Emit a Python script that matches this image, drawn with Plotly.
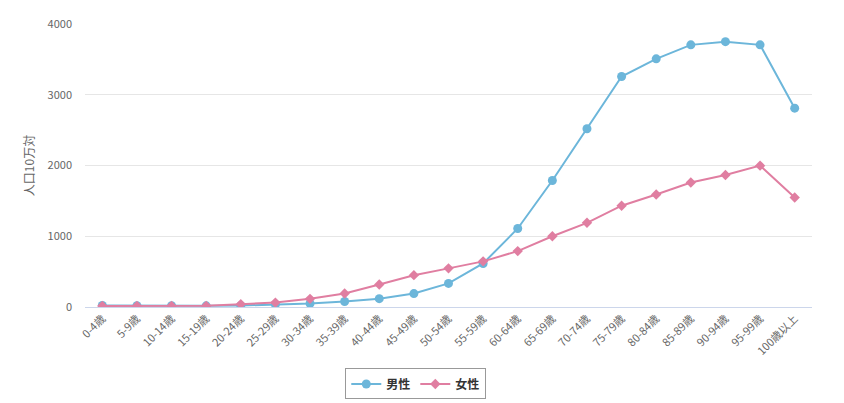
import plotly.graph_objects as go

categories = ["0-4歳", "5-9歳", "10-14歳", "15-19歳", "20-24歳", "25-29歳", "30-34歳",
              "35-39歳", "40-44歳", "45-49歳", "50-54歳", "55-59歳", "60-64歳", "65-69歳",
              "70-74歳", "75-79歳", "80-84歳", "85-89歳", "90-94歳", "95-99歳", "100歳以上"]
male = [22, 18, 18, 16, 20, 35, 50, 78, 118, 190, 333, 615, 1110, 1788, 2520, 3258,
        3508, 3705, 3750, 3705, 2810]
female = [15, 14, 14, 16, 40, 62, 115, 190, 318, 450, 546, 645, 790, 1000, 1190, 1432,
          1590, 1760, 1866, 1998, 1548]

font_family = "Noto Sans CJK JP, Noto Sans, sans-serif"

fig = go.Figure()
fig.add_trace(go.Scatter(
    x=categories, y=male, name="男性", mode="lines+markers",
    line=dict(color="#6cb6da", width=2),
    marker=dict(symbol="circle", size=9, color="#6cb6da"),
))
fig.add_trace(go.Scatter(
    x=categories, y=female, name="女性", mode="lines+markers",
    line=dict(color="#e07ea1", width=2),
    marker=dict(symbol="diamond", size=8, color="#e07ea1"),
))

fig.update_layout(
    width=844, height=403,
    margin=dict(l=85, r=32, t=24, b=96, autoexpand=False),
    paper_bgcolor="white", plot_bgcolor="white",
    font=dict(family=font_family, size=12, color="#666666"),
    showlegend=True,
    legend=dict(
        orientation="h", x=0.455, xanchor="center", y=-0.272, yanchor="middle",
        bordercolor="#999999", borderwidth=1,
        font=dict(size=12, color="#333333", family=font_family, weight="bold"),
        itemwidth=30, tracegroupgap=0,
    ),
    hovermode="x",
)
fig.update_xaxes(
    type="category", tickangle=-45, showgrid=False, automargin=False,
    showline=True, linecolor="#ccd6eb", linewidth=1,
    ticks="", tickfont=dict(size=11, color="#666666"),
    range=[-0.5, len(categories) - 0.5],
)
fig.update_yaxes(
    range=[0, 4000], tickvals=[0, 1000, 2000, 3000, 4000], automargin=False,
    showgrid=True, gridcolor="#e6e6e6", zeroline=False,
    tickfont=dict(size=11, color="#666666"), ticklabelstandoff=12,
    title=dict(text="人口10万対", font=dict(size=12, color="#666666"), standoff=10),
)

fig.write_html("out.html")
